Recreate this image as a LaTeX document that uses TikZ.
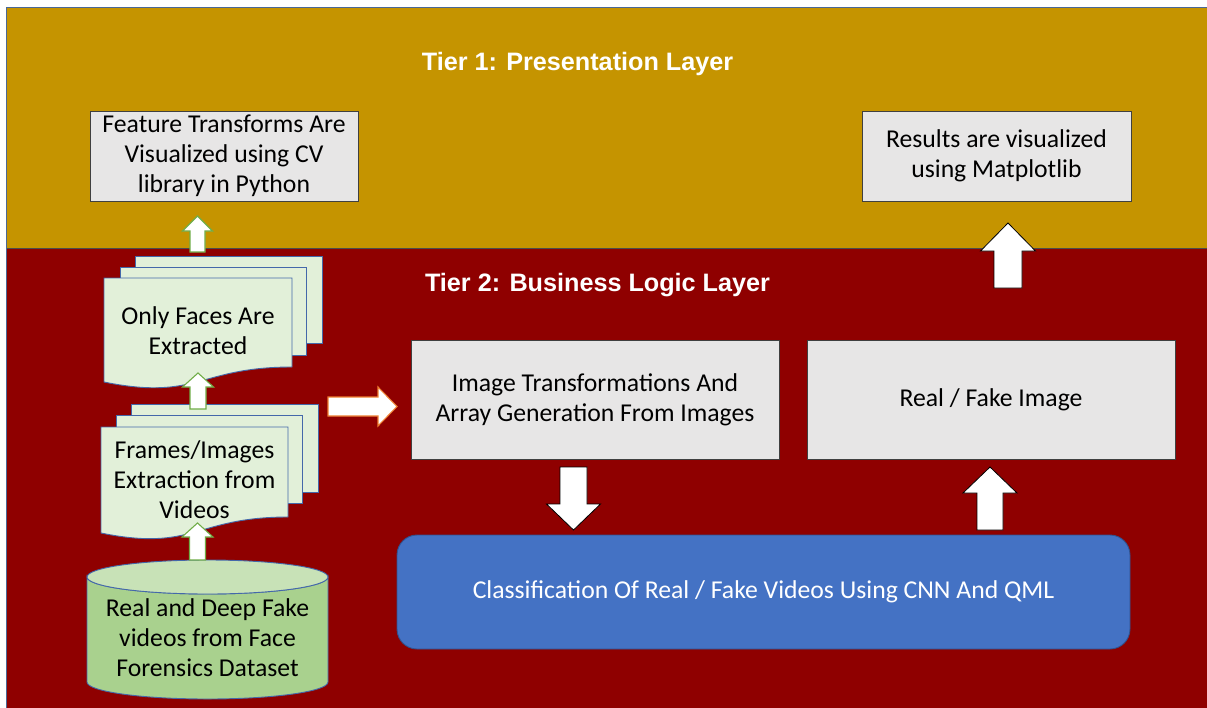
\documentclass[tikz,border=0pt]{standalone}
\usepackage{fontspec}
\setmainfont{Carlito}
\newfontfamily\headfont{Liberation Sans}
\usetikzlibrary{calc}

\definecolor{tiergold}{RGB}{197,148,0}
\definecolor{tierred}{RGB}{143,0,0}
\definecolor{boxgray}{RGB}{231,230,230}
\definecolor{classblue}{RGB}{68,114,196}
\definecolor{classedge}{RGB}{47,82,143}
\definecolor{pagegreen}{RGB}{226,240,217}
\definecolor{pageedge}{RGB}{68,104,170}
\definecolor{drumgreen}{RGB}{169,209,142}
\definecolor{drumtop}{RGB}{200,226,183}
\definecolor{arrowgreen}{RGB}{112,173,71}
\definecolor{arroworange}{RGB}{237,125,49}
\definecolor{frameblue}{RGB}{74,104,150}

\newcommand\bodysize{\fontsize{25.7}{30}\selectfont}
\newcommand\headsize{\headfont\bfseries\fontsize{25.2}{30}\selectfont}

% block arrows between two named coordinates:
% #1 style, #2 tail, #3 tip, #4 shaft half width, #5 head half width, #6 head length
\newcommand\blockup[6]{\draw[#1] let \p1=(#2), \p2=(#3) in
  ({\x1-#4},\y1) -- ({\x1-#4},{\y2-#6}) -- ({\x1-#5},{\y2-#6}) -- (\x1,\y2)
  -- ({\x1+#5},{\y2-#6}) -- ({\x1+#4},{\y2-#6}) -- ({\x1+#4},\y1) -- cycle;}
\newcommand\blockdown[6]{\draw[#1] let \p1=(#2), \p2=(#3) in
  ({\x1-#4},\y1) -- ({\x1-#4},{\y2+#6}) -- ({\x1-#5},{\y2+#6}) -- (\x1,\y2)
  -- ({\x1+#5},{\y2+#6}) -- ({\x1+#4},{\y2+#6}) -- ({\x1+#4},\y1) -- cycle;}
\newcommand\blockright[6]{\draw[#1] let \p1=(#2), \p2=(#3) in
  (\x1,{\y1+#4}) -- ({\x2-#6},{\y1+#4}) -- ({\x2-#6},{\y1+#5}) -- (\x2,\y1)
  -- ({\x2-#6},{\y1-#5}) -- ({\x2-#6},{\y1-#4}) -- (\x1,{\y1-#4}) -- cycle;}

\begin{document}
\begin{tikzpicture}[x=1pt,y=-1pt,
  graybox/.style={draw=black!75, line width=0.8pt, fill=boxgray, align=center,
    font=\bodysize, inner sep=0pt},
  page/.style={draw=pageedge, line width=0.9pt, fill=pagegreen},
  label/.style={align=center, font=\bodysize, inner sep=0pt},
  title/.style={text=white, font=\headsize, inner sep=0pt},
  greenarrow/.style={draw=arrowgreen, line width=1.1pt, fill=white},
  orangearrow/.style={draw=arroworange, line width=1.1pt, fill=white},
  blackarrow/.style={draw=black, line width=0.8pt, fill=white}]

\useasboundingbox (0,0) rectangle (1207,707);
\clip (0,0) rectangle (1207,707);

% tier backgrounds
\fill[tiergold] (6,7) rectangle (1212,248);
\fill[tierred] (6,248) rectangle (1212,712);
\draw[gray!60!black, line width=1pt] (6,248) -- (1212,248);
\draw[frameblue, line width=1pt] (6,712) -- (6,7) -- (1212,7);

% tier titles
\node[title] (tier1) at (577.5,64) {Tier 1: Presentation Layer};
\node[title] (tier2) at (597.5,285) {Tier 2: Business Logic Layer};

% presentation boxes
\node[graybox, minimum width=268, minimum height=90] (feat) at (224,156)
  {Feature Transforms Are\\Visualized using CV\\library in Python};
\node[graybox, minimum width=269, minimum height=90] (results) at (996.5,156)
  {Results are visualized\\using Matplotlib};

% business logic boxes
\node[graybox, minimum width=368, minimum height=119] (imgtr) at (595,399.5)
  {Image Transformations And\\Array Generation From Images};
\node[graybox, minimum width=368, minimum height=119] (realfake) at (991,399.5)
  {Real / Fake Image};
\node[draw=classedge, line width=0.9pt, fill=classblue, rounded corners=20pt,
  minimum width=733, minimum height=114, text=white, font=\bodysize]
  (classify) at (763.5,592) {Classification Of Real / Fake Videos Using CNN And QML};

% stacked pages: faces
\path[page] (135,256) rectangle (322,343);
\path[page] (120,267) rectangle (306,355);
\path[page] (104,278) -- (292,278) -- (292,367)
  .. controls (198,367) and (198,401) .. (104,382) -- cycle;
\node[label] (faces) at (198,331) {Only Faces Are\\Extracted};

% stacked pages: frames
\path[page] (131,404) rectangle (318,492);
\path[page] (116,415) rectangle (302,503);
\path[page] (101,427) -- (288,427) -- (288,517)
  .. controls (194.5,517) and (194.5,552) .. (101,533) -- cycle;
\node[label] (frames) at (194.5,480) {Frames/Images\\Extraction from\\Videos};

% dataset drum
\path[draw=pageedge, line width=0.9pt, fill=drumgreen]
  (87,577) -- (87,682) arc[start angle=180, end angle=0, x radius=120.5, y radius=17]
  -- (328,577) arc[start angle=0, end angle=180, x radius=120.5, y radius=17] -- cycle;
\path[draw=pageedge, line width=0.9pt, fill=drumtop]
  (207.5,577) ellipse[x radius=120.5, y radius=17];
\node[label] (dataset) at (207.5,638)
  {Real and Deep Fake\\videos from Face\\Forensics Dataset};

% arrow end points
\coordinate (a1s) at (197.5,252);  \coordinate (a1e) at (197.5,216);
\coordinate (a2s) at (198,409);    \coordinate (a2e) at (198,373);
\coordinate (a3s) at (197.5,560);  \coordinate (a3e) at (197.5,523);
\coordinate (a4s) at (328,406.5);  \coordinate (a4e) at (397,406.5);
\coordinate (a5s) at (573.5,467);  \coordinate (a5e) at (573.5,530);
\coordinate (a6s) at (990,530);    \coordinate (a6e) at (990,467);
\coordinate (a7s) at (1008,288);   \coordinate (a7e) at (1008,223);

\blockup{greenarrow}{a1s}{a1e}{7.5pt}{15pt}{15pt}
\blockup{greenarrow}{a2s}{a2e}{8pt}{15.5pt}{14pt}
\blockup{greenarrow}{a3s}{a3e}{8pt}{15.5pt}{14pt}
\blockright{orangearrow}{a4s}{a4e}{9.5pt}{19.5pt}{19pt}
\blockdown{blackarrow}{a5s}{a5e}{13.5pt}{27pt}{26pt}
\blockup{blackarrow}{a6s}{a6e}{13pt}{27pt}{26pt}
\blockup{blackarrow}{a7s}{a7e}{14pt}{27.5pt}{28pt}

\end{tikzpicture}
\end{document}
